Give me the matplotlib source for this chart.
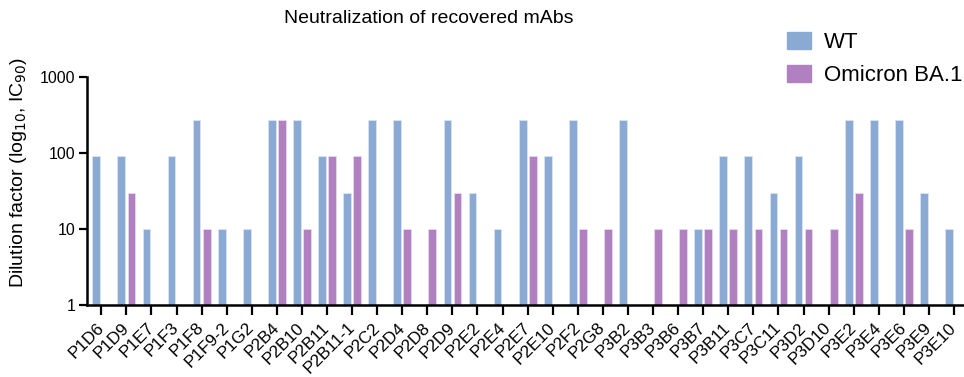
import numpy as np
import matplotlib.pyplot as plt
from matplotlib.patches import Patch

plt.rcParams['font.family'] = ['Liberation Sans', 'DejaVu Sans']

mabs = ['P1D6', 'P1D9', 'P1E7', 'P1F3', 'P1F8', 'P1F9-2', 'P1G2', 'P2B4', 'P2B10',
        'P2B11', 'P2B11-1', 'P2C2', 'P2D4', 'P2D8', 'P2D9', 'P2E2', 'P2E4', 'P2E7',
        'P2E10', 'P2F2', 'P2G8', 'P3B2', 'P3B3', 'P3B6', 'P3B7', 'P3B11', 'P3C7',
        'P3C11', 'P3D2', 'P3D10', 'P3E2', 'P3E4', 'P3E6', 'P3E9', 'P3E10']
nan = np.nan
# IC90 dilution factors, nan = not neutralizing
wt = [90, 90, 10, 90, 270, 10, 10, 270, 270,
      90, 30, 270, 270, nan, 270, 30, 10, 270,
      90, 270, nan, 270, nan, nan, 10, 90, 90,
      30, 90, nan, 270, 270, 270, 30, 10]
ba1 = [nan, 30, nan, nan, 10, nan, nan, 270, 10,
       90, 90, nan, 10, 10, 30, nan, nan, 90,
       nan, 10, 10, nan, 10, 10, 10, 10, 10,
       10, 10, 10, 30, nan, 10, nan, nan]

blue = '#8aaad3'
purple = '#b180c0'

fig = plt.figure(figsize=(9.64, 3.77), dpi=100)
ax = fig.add_axes([0.09, 0.191, 0.909, 0.605])

x = np.arange(len(mabs))
w = 0.31
ax.bar(x - 0.2, wt, w, color=blue, edgecolor='#dfe7f3', linewidth=0.5, bottom=0)
ax.bar(x + 0.2, ba1, w, color=purple, edgecolor='#ecdcf1', linewidth=0.5, bottom=0)

ax.set_yscale('log')
ax.set_ylim(1, 1000)
ax.set_xlim(-0.58, 34.36)
ax.set_yticks([1, 10, 100, 1000])
ax.set_yticklabels(['1', '10', '100', '1000'])
ax.yaxis.set_minor_locator(plt.NullLocator())
ax.set_xticks(x)
ax.set_xticklabels(mabs, rotation=45, ha='right', va='center', rotation_mode='anchor',
                   fontsize=12.3)
ax.tick_params(axis='y', labelsize=11.5, width=1.6, length=6, pad=2)
ax.tick_params(axis='x', width=1.6, length=7, pad=7.5)

for s in ['top', 'right']:
    ax.spines[s].set_visible(False)
for s in ['left', 'bottom']:
    ax.spines[s].set_linewidth(1.8)

ax.set_ylabel('Dilution factor (log$_{10}$, IC$_{90}$)', fontsize=14)
ax.yaxis.set_label_coords(-0.066, 0.58)

fig.text(0.445, 0.952, 'Neutralization of recovered mAbs', ha='center', va='center', fontsize=14)

handles = [Patch(color=blue, label='WT'), Patch(color=purple, label='Omicron BA.1')]
fig.legend(handles=handles, loc='upper right', bbox_to_anchor=(1.008, 0.94), frameon=False,
           fontsize=16, handlelength=1.08, handleheight=0.81, labelspacing=0.55,
           handletextpad=0.6, borderaxespad=0)

plt.savefig('out.png', dpi=100)
